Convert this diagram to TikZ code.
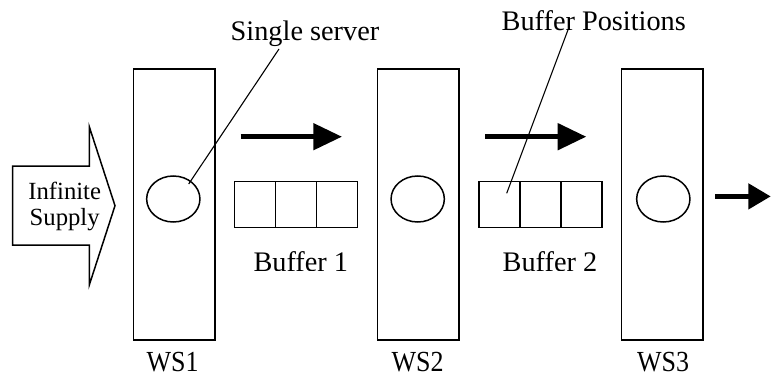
\documentclass[tikz,border=0pt]{standalone}
\usepackage{fontspec}
\setmainfont{Liberation Serif}
\usetikzlibrary{shapes.geometric}
\begin{document}
\begin{tikzpicture}[x=1pt,y=-1pt,
  thinline/.style={line width=1.5pt},
  station/.style={draw,thinline,rectangle,minimum width=81.5pt,minimum height=271pt,inner sep=0pt,outer sep=0pt},
  server/.style={draw,thinline,ellipse,minimum width=53.3pt,minimum height=46pt,inner sep=0pt,outer sep=0pt},
  cell/.style={draw,thinline,rectangle,minimum width=41pt,minimum height=46pt,inner sep=0pt,outer sep=0pt},
  leader/.style={line width=1.1pt},
  flowshaft/.style={line width=5.3pt},
  flowhead/.style={fill=black},
  lbl/.style={inner sep=0pt,anchor=base,font=\fontsize{28.3}{30}\selectfont},
  wslbl/.style={inner sep=0pt,anchor=base,font=\fontsize{26}{28}\selectfont,yscale=1.12}]

\useasboundingbox (0,0) rectangle (771,377);

% supply arrow
\draw[thinline,line join=miter] (12.7,166) -- (89.3,166) -- (89.3,126.7) -- (115,205.7)
  -- (89.3,285) -- (89.3,245) -- (12.7,245) -- cycle;
\node[inner sep=0pt,anchor=base,font=\fontsize{24.7}{25.7}\selectfont] (supply1) at (64.7,199.3) {Infinite};
\node[inner sep=0pt,anchor=base,font=\fontsize{24.7}{25.7}\selectfont] (supply2) at (64.7,225) {Supply};

% workstations
\node[station] (ws1) at (174,204.5) {};
\node[station] (ws2) at (418.3,204.5) {};
\node[station] (ws3) at (662.3,204.5) {};
\node[server] (srv1) at (173.3,199) {};
\node[server] (srv2) at (417.7,199) {};
\node[server] (srv3) at (663.3,199) {};
\node[wslbl,transform shape] (ws1lbl) at (172.5,371) {WS1};
\node[wslbl,transform shape] (ws2lbl) at (417.5,371) {WS2};
\node[wslbl,transform shape] (ws3lbl) at (663,371) {WS3};

% buffers
\node[cell] (b1a) at (255,204.7) {};
\node[cell] (b1b) at (296.2,204.7) {};
\node[cell] (b1c) at (337.2,204.7) {};
\node[cell] (b2a) at (499.5,204.7) {};
\node[cell] (b2b) at (540.5,204.7) {};
\node[cell] (b2c) at (581.3,204.7) {};
\begin{scope}
  \clip (200,240) rectangle (620,270.8);
  \node[lbl] (buf1lbl) at (300.8,271.5) {Buffer 1};
  \node[lbl] (buf2lbl) at (550,271.5) {Buffer 2};
\end{scope}

% flow arrows
\coordinate (f1s) at (240.7,136.7); \coordinate (f1b) at (313.3,136.7); \coordinate (f1t) at (341.7,136.7);
\coordinate (f2s) at (485,136.7);   \coordinate (f2b) at (557.7,136.7); \coordinate (f2t) at (586,136.7);
\coordinate (f3s) at (715,196.4);   \coordinate (f3b) at (748.3,196.4); \coordinate (f3t) at (770.5,196.4);
\draw[flowshaft] (f1s) -- ([xshift=1pt]f1b);
\fill[flowhead] ([yshift=-13.7pt]f1b) -- (f1t) -- ([yshift=13.7pt]f1b) -- cycle;
\draw[flowshaft] (f2s) -- ([xshift=1pt]f2b);
\fill[flowhead] ([yshift=-13.7pt]f2b) -- (f2t) -- ([yshift=13.7pt]f2b) -- cycle;
\draw[flowshaft] (f3s) -- ([xshift=1pt]f3b);
\fill[flowhead] ([yshift=-13.2pt]f3b) -- (f3t) -- ([yshift=13.2pt]f3b) -- cycle;

% callouts
\node[lbl] (sslbl) at (305,41) {Single server};
\node[lbl] (bplbl) at (593.8,30.5) {Buffer Positions};
\coordinate (ssend) at (279,49);
\coordinate (sstip) at (188.7,184);
\coordinate (bpend) at (568.3,29);
\coordinate (bptip) at (506.7,193.3);
\draw[leader] (ssend) -- (sstip);
\draw[leader] (bpend) -- (bptip);
\end{tikzpicture}
\end{document}
